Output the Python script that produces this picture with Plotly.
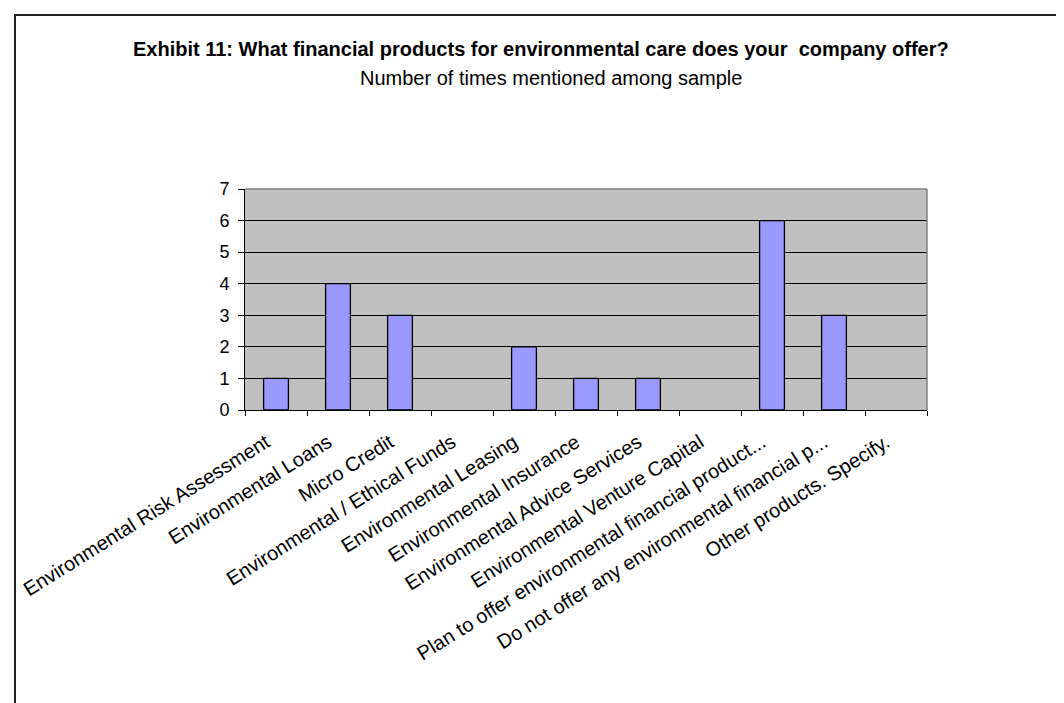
import plotly.graph_objects as go

categories = [
    "Environmental Risk Assessment",
    "Environmental Loans",
    "Micro Credit",
    "Environmental / Ethical Funds",
    "Environmental Leasing",
    "Environmental Insurance",
    "Environmental Advice Services",
    "Environmental Venture Capital",
    "Plan to offer environmental financial product...",
    "Do not offer any environmental financial p...",
    "Other products. Specify.",
]
values = [1, 4, 3, 0, 2, 1, 1, 0, 6, 3, 0]
y_ticks = [0, 1, 2, 3, 4, 5, 6, 7]

title_text = "Exhibit 11: What financial products for environmental care does your  company offer?"
subtitle_text = "Number of times mentioned among sample"

W, H = 1064, 703
L, R, T, B = 237, 145, 181, 301
PW = W - L - R
PH = H - T - B


def px(X):
    return (X - L) / PW


def py(Y):
    return (H - B - Y) / PH


FONT = "Arial, Liberation Sans, sans-serif"

fig = go.Figure(
    go.Bar(
        x=categories,
        y=values,
        marker=dict(
            color="#9999FF",
            line=dict(color="black", width=[1.3 if v > 0 else 0 for v in values]),
        ),
        width=0.4,
    )
)

fig.update_layout(
    width=W,
    height=H,
    margin=dict(l=L, r=R, t=T, b=B, autoexpand=False),
    paper_bgcolor="white",
    plot_bgcolor="#C0C0C0",
    showlegend=False,
    font=dict(family=FONT, color="black"),
)

fig.update_xaxes(
    type="category",
    range=[-0.5, len(categories) - 0.5],
    tickson="boundaries",
    ticks="outside",
    ticklen=5,
    tickcolor="black",
    showline=True,
    linecolor="black",
    linewidth=1,
    showgrid=False,
    tickangle=-32,
    tickfont=dict(size=20, family=FONT, color="black"),
    ticklabelstandoff=12,
    ticklabelshift=-10,
)

fig.update_yaxes(
    range=[0, 7],
    tickvals=y_ticks,
    ticks="outside",
    ticklen=6,
    tickcolor="black",
    showline=True,
    linecolor="black",
    linewidth=1,
    showgrid=True,
    gridcolor="black",
    gridwidth=1,
    zeroline=False,
    tickfont=dict(size=18, family=FONT, color="black"),
    ticklabelstandoff=5,
)

# plot-area border (top and right, gray)
fig.add_shape(type="line", xref="paper", yref="paper", x0=0, x1=1, y0=1, y1=1,
              line=dict(color="#808080", width=1.5), layer="above")
fig.add_shape(type="line", xref="paper", yref="paper", x0=1, x1=1, y0=0, y1=1,
              line=dict(color="#808080", width=1.5), layer="above")

# outer chart border
fig.add_shape(type="rect", xref="paper", yref="paper",
              x0=px(7), x1=px(1075), y0=py(715), y1=py(7),
              line=dict(color="#222222", width=2), layer="above")

fig.add_annotation(text="<b>" + title_text + "</b>", xref="paper", yref="paper",
                   x=px(533), y=py(41), xanchor="center", yanchor="middle",
                   showarrow=False, font=dict(size=20, family=FONT, color="black"))
fig.add_annotation(text=subtitle_text, xref="paper", yref="paper",
                   x=px(543), y=py(70), xanchor="center", yanchor="middle",
                   showarrow=False, font=dict(size=20, family=FONT, color="black"))

fig.write_html("out.html")
